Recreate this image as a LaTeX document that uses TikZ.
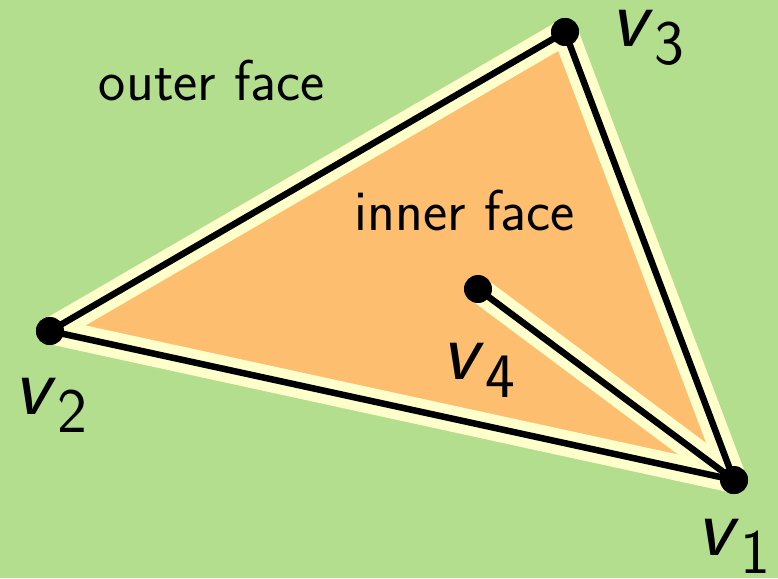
\documentclass[tikz,border=0pt]{standalone}
\usetikzlibrary{positioning}
\definecolor{facegreen}{RGB}{178,222,142}
\definecolor{faceorange}{RGB}{253,190,112}
\definecolor{halo}{RGB}{255,255,204}
\newcommand{\VL}[1]{\textsf{\textit{v}}\kern0.01em\raisebox{-0.5ex}{\fontsize{18}{20}\selectfont\sffamily #1}}
\tikzset{
  vtx/.style={circle,fill=black,inner sep=0pt,minimum size=0.28cm},
  vlabel/.style={font=\fontsize{24}{26}\selectfont\sffamily,inner sep=0pt},
  flabel/.style={font=\fontsize{16.4}{19}\selectfont\sffamily,inner sep=0pt},
  halostroke/.style={draw=halo,line width=0.26cm,line join=round,line cap=round},
  edge/.style={draw=black,line width=0.065cm,line join=round},
}
\begin{document}
\begin{tikzpicture}[x=0.01cm,y=-0.01cm]
    \fill[facegreen] (0,0) rectangle (778,578);
    \useasboundingbox (0,0) rectangle (778,578);
    \node[vtx] (v1) at (734,480) {};
    \node[vtx] (v2) at (50,331) {};
    \node[vtx] (v3) at (565,32) {};
    \node[vtx] (v4) at (478,289) {};
    % faces
    \fill[faceorange] (v1.center) -- (v2.center) -- (v3.center) -- cycle;
    \draw[halostroke] (v1.center) -- (v2.center) -- (v3.center) -- cycle;
    \draw[halostroke] (v1.center) -- (v4.center);
    \draw[edge] (v1.center) -- (v2.center) -- (v3.center) -- cycle;
    \draw[edge] (v1.center) -- (v4.center);
    \node[vtx] at (v1) {};
    \node[vtx] at (v2) {};
    \node[vtx] at (v3) {};
    \node[vtx] at (v4) {};
    % labels
    \node[vlabel] (l1) at (733,546) {\VL{1}};
    \node[vlabel] (l2) at (50,405) {\VL{2}};
    \node[vlabel] (l3) at (647,38) {\VL{3}};
    \node[vlabel] (l4) at (478,370) {\VL{4}};
    \node[flabel] (outer) at (212,80) {outer face};
    \node[flabel] (inner) at (465,210) {inner face};
\end{tikzpicture}
\end{document}
